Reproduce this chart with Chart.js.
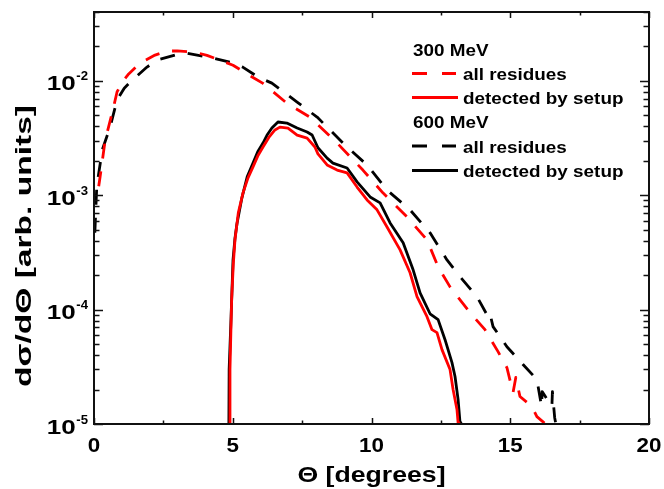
<!DOCTYPE html>
<html><head><meta charset="utf-8">
<script src="https://cdn.jsdelivr.net/npm/chart.js@4.4.1/dist/chart.umd.min.js"></script>
<style>html,body{margin:0;padding:0;background:#fff;}canvas{display:block;}</style>
</head><body>
<canvas id="c" width="664" height="489"></canvas>
<script>
// ---- data ----
const theta300All = [0.17,0.22,0.40,0.68,0.83,1.05,1.25,1.66,2.2,2.63,3.0,3.64,4.07,4.65,5.01,5.7,6.09,6.95,7.78,8.76,9.69,10.41,11.28,12.0,12.4,12.83,13.55,14.09,14.56,14.88,15.1,15.2,15.35,15.78,15.96,16.25,16.4];
const val300All   = [1.2e-3,1.45e-3,3.0e-3,5.55e-3,8.0e-3,1.0e-2,1.15e-2,1.43e-2,1.68e-2,1.82e-2,1.83e-2,1.78e-2,1.67e-2,1.48e-2,1.37e-2,1.08e-2,9.5e-3,6.38e-3,4.82e-3,2.86e-3,1.66e-3,1.05e-3,6.47e-4,4.07e-4,2.37e-4,1.58e-4,9.4e-5,6.68e-5,4.29e-5,3.11e-5,1.88e-5,2.55e-5,1.74e-5,1.42e-5,1.16e-5,1.01e-5,9e-6];

const theta300Det = [4.88,4.90,4.96,5.02,5.08,5.2,5.37,5.55,5.73,5.9,6.09,6.3,6.52,6.70,6.99,7.32,7.68,7.96,8.07,8.40,8.76,9.12,9.48,9.84,10.20,10.56,11.03,11.39,11.64,12.0,12.18,12.36,12.54,12.83,12.94,13.08,13.12,13.15];
const val300Det   = [9e-6,3.0e-5,1.22e-4,2.5e-4,4.07e-4,7.02e-4,1.05e-3,1.42e-3,1.77e-3,2.2e-3,2.64e-3,3.2e-3,3.72e-3,3.94e-3,3.87e-3,3.36e-3,3.16e-3,2.64e-3,2.3e-3,1.84e-3,1.66e-3,1.57e-3,1.18e-3,9.1e-4,7.45e-4,5.28e-4,3.33e-4,2.10e-4,1.30e-4,8.67e-5,6.68e-5,6.29e-5,4.47e-5,2.99e-5,2.0e-5,1.34e-5,1.03e-5,9e-6];

const theta600All = [0.03,0.1,0.3,0.58,0.83,1.09,1.37,1.91,2.27,2.92,3.35,4.29,4.9,5.36,5.91,6.41,7.32,8.04,9.12,9.84,10.56,11.39,12.11,12.72,13.19,13.80,14.2,14.27,14.38,14.88,15.46,15.96,16.13,16.15,16.5,16.52,16.6,16.68];
const val600All   = [4.7e-4,1.2e-3,2.5e-3,3.94e-3,6.79e-3,8.63e-3,1.01e-2,1.32e-2,1.52e-2,1.68e-2,1.745e-2,1.58e-2,1.46e-2,1.32e-2,1.08e-2,9.55e-3,6.52e-3,4.82e-3,2.64e-3,1.84e-3,1.11e-3,7.45e-4,4.69e-4,2.72e-4,1.94e-4,1.30e-4,8.67e-5,9.21e-5,7.1e-5,4.74e-5,3.31e-5,2.45e-5,1.42e-5,1.92e-5,1.42e-5,1.92e-5,1.14e-5,9e-6];

const theta600Det = [4.86,4.87,4.94,5.01,5.08,5.15,5.33,5.52,5.73,5.9,6.09,6.25,6.41,6.63,6.95,7.32,7.68,7.86,8.07,8.40,8.61,9.12,9.48,9.95,10.31,10.67,11.14,11.50,11.75,12.11,12.40,12.65,12.90,13.01,13.12,13.19,13.22];
const val600Det   = [9e-6,2.99e-5,8.67e-5,2.72e-4,4.2e-4,5.6e-4,9.5e-4,1.45e-3,1.91e-3,2.4e-3,2.86e-3,3.4e-3,3.87e-3,4.37e-3,4.28e-3,3.87e-3,3.57e-3,3.36e-3,2.6e-3,2.11e-3,1.91e-3,1.73e-3,1.31e-3,9.66e-4,8.57e-4,5.73e-4,3.84e-4,2.23e-4,1.40e-4,9.2e-5,8.17e-5,5.46e-5,3.44e-5,2.6e-5,1.64e-5,1.03e-5,9e-6];

const xTicks = [0,5,10,15,20];
const yTickExps = [-5,-4,-3,-2];
const legendGroups = ['300 MeV','600 MeV'];
const legendItems = ['all residues','detected by setup'];
const xTitle = 'Θ [degrees]';
const yTitle = 'dσ/dΘ [arb. units]';

const FONT = '"Liberation Sans", Arial, Helvetica, sans-serif';
function pts(t, v){ return t.map((x,i)=>({x:x, y:v[i]})); }

function txt(ctx, s, x, y, size, sx, align, targetW){
  ctx.save();
  ctx.font = 'bold ' + size + 'px ' + FONT;
  const mw = ctx.measureText(s).width;
  if (targetW) sx = targetW / mw;
  const w = mw * sx;
  const x0 = align === 'center' ? x - w/2 : (align === 'right' ? x - w : x);
  ctx.translate(x0, y);
  ctx.scale(sx, 1);
  ctx.textAlign = 'left'; ctx.textBaseline = 'alphabetic';
  ctx.fillStyle = '#000';
  ctx.fillText(s, 0, 0);
  ctx.restore();
  return w;
}

const framePlugin = {
  id: 'frame',
  afterDraw(chart){
    const ctx = chart.ctx, a = chart.chartArea;
    const xs = chart.scales.x, ys = chart.scales.y;
    ctx.save();
    ctx.strokeStyle = '#111';
    ctx.lineWidth = 2;
    ctx.setLineDash([]);
    ctx.strokeRect(a.left, a.top, a.right - a.left, a.bottom - a.top);
    ctx.lineWidth = 1.5;
    ctx.beginPath();
    for (let v = 0; v <= 20.001; v += 2.5){
      const px = Math.round(xs.getPixelForValue(v)) + 0.5;
      const len = (Math.abs(v % 5) < 1e-6) ? 6 : 3.5;
      ctx.moveTo(px, a.bottom); ctx.lineTo(px, a.bottom - len);
      ctx.moveTo(px, a.top); ctx.lineTo(px, a.top + len);
    }
    for (const e of yTickExps){
      for (let m = 1; m <= 9; m++){
        const val = m * Math.pow(10, e);
        if (val > ys.max * 1.0001) break;
        const py = Math.round(ys.getPixelForValue(val)) + 0.5;
        const len = m === 1 ? 9 : 5.5;
        ctx.moveTo(a.left, py); ctx.lineTo(a.left + len, py);
        ctx.moveTo(a.right, py); ctx.lineTo(a.right - len, py);
      }
    }
    ctx.stroke();
    ctx.restore();

    // x tick labels
    for (const v of xTicks){
      txt(ctx, String(v), xs.getPixelForValue(v), 452, 20, 1.12, 'center');
    }
    // y tick labels 10^e
    for (const e of yTickExps){
      const py = ys.getPixelForValue(Math.pow(10, e));
      const sw = txt(ctx, String(e), 88, py - 0.5, 12, 1.1, 'right');
      txt(ctx, '10', 88 - sw - 0.5, py + 9.5, 20, 1.3, 'right');
    }
    // axis titles
    txt(ctx, xTitle, (a.left + a.right)/2, 482, 22, 1, 'center', 148);
    ctx.save();
    ctx.translate(31, 246);
    ctx.rotate(-Math.PI/2);
    txt(ctx, yTitle, 0, 0, 22, 1, 'center', 282);
    ctx.restore();

    // legend
    const base = [56, 80, 104, 128, 152.5, 177];
    const cols = ['#ff0000', '#000000'];
    for (let g = 0; g < 2; g++){
      txt(ctx, legendGroups[g], 413, base[g*3], 17, 1.11, 'left');
      for (let k = 0; k < 2; k++){
        const b = base[g*3 + 1 + k];
        ctx.save();
        ctx.strokeStyle = cols[g];
        ctx.lineWidth = 3;
        ctx.setLineDash(k === 0 ? [15, 15] : []);
        ctx.beginPath();
        ctx.moveTo(412, b - 6.5); ctx.lineTo(k === 0 ? 456 : 458, b - 6.5);
        ctx.stroke();
        ctx.restore();
        txt(ctx, legendItems[k], 463, b, 17, 1.11, 'left');
      }
    }
  }
};

const common = {pointRadius: 0, borderWidth: 2.8, fill: false, tension: 0, clip: 0, borderJoinStyle: 'round'};
new Chart(document.getElementById('c'), {
  type: 'line',
  data: {
    datasets: [
      Object.assign({label: '300 MeV detected by setup', data: pts(theta300Det, val300Det), borderColor: '#ff0000'}, common),
      Object.assign({label: '300 MeV all residues', data: pts(theta300All, val300All), borderColor: '#ff0000', borderDash: [15, 13]}, common),
      Object.assign({label: '600 MeV detected by setup', data: pts(theta600Det, val600Det), borderColor: '#000000'}, common),
      Object.assign({label: '600 MeV all residues', data: pts(theta600All, val600All), borderColor: '#000000', borderDash: [15, 13]}, common)
    ]
  },
  options: {
    responsive: false, animation: false, devicePixelRatio: 1,
    layout: {padding: {top: 12, right: 15, left: 0, bottom: 0}},
    plugins: {legend: {display: false}, tooltip: {enabled: false}},
    scales: {
      x: {type: 'linear', min: 0, max: 20, ticks: {display: false}, grid: {display: false, drawTicks: false}, border: {display: false},
          afterFit(s){ s.height = 65; }},
      y: {type: 'logarithmic', min: 1e-5, max: 4e-2, ticks: {display: false}, grid: {display: false, drawTicks: false}, border: {display: false},
          afterFit(s){ s.width = 94; }}
    }
  },
  plugins: [framePlugin]
});
</script>
</body></html>
